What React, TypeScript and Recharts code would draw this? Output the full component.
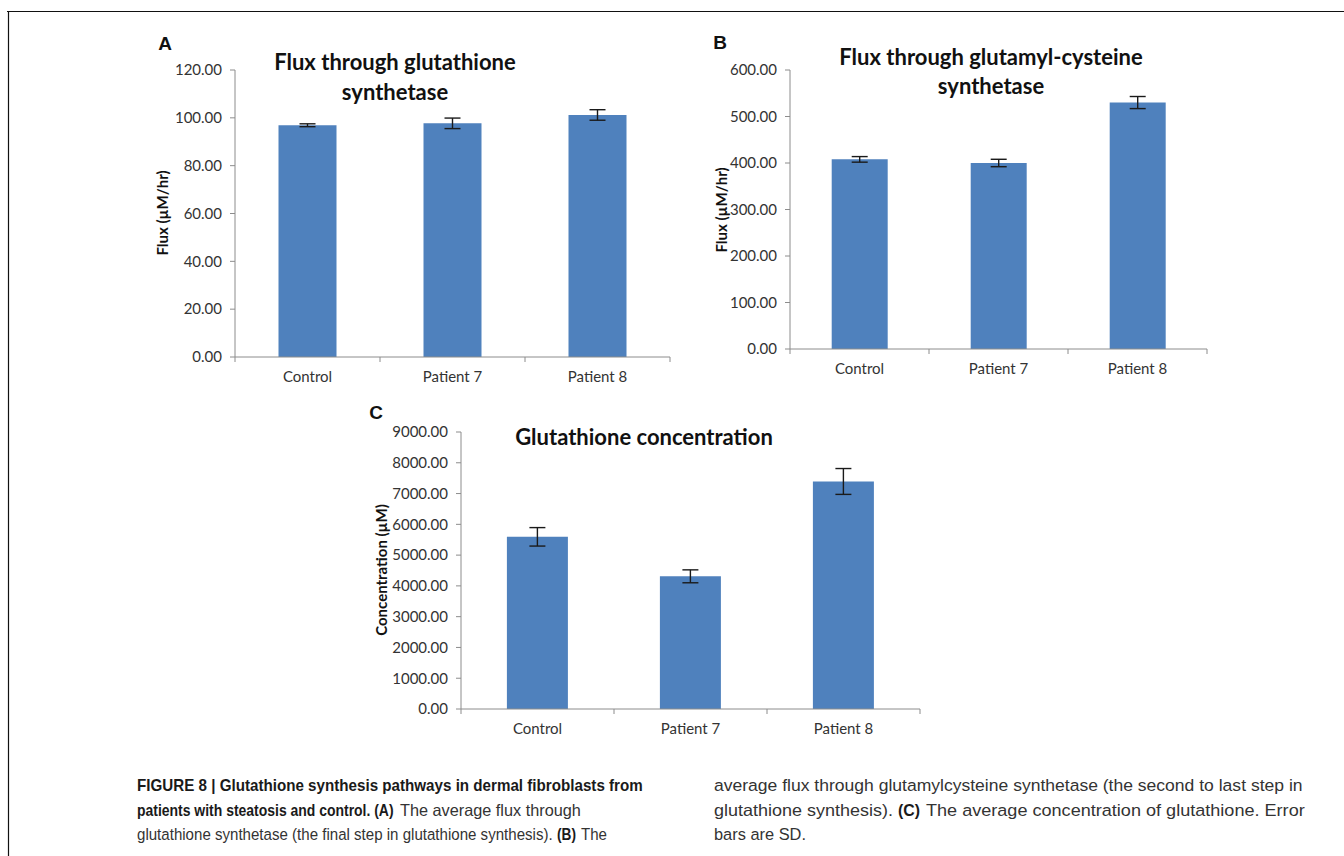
import React, { useLayoutEffect, useRef, useState } from "react";
import { BarChart, Bar, XAxis, YAxis, ErrorBar } from "recharts";

const categories = ["Control", "Patient 7", "Patient 8"];

// A: flux through glutathione synthetase
const gsFlux = [96.9, 97.7, 101.2];
const gsFluxSd = [0.6, 2.2, 2.2];
const gsTicks = [0, 20, 40, 60, 80, 100, 120];

// B: flux through glutamyl-cysteine synthetase
const gcsFlux = [407.8, 400.0, 530.0];
const gcsFluxSd = [6, 8, 13];
const gcsTicks = [0, 100, 200, 300, 400, 500, 600];

// C: glutathione concentration
const gshConc = [5594, 4311, 7393];
const gshConcSd = [300, 210, 420];
const gshTicks = [0, 1000, 2000, 3000, 4000, 5000, 6000, 7000, 8000, 9000];

const BAR = "#4f81bd";
const AXIS = "#8c8c8c";
const TEXT = "#333";
const FONT = "Lato, 'Open Sans', sans-serif";

function CatTick(props: any) {
  const { x, y, payload, index, half } = props;
  const off = payload && payload.offset ? payload.offset : half;
  const axisY = y - 14;
  return (
    <g>
      <line x1={x - off} x2={x - off} y1={axisY} y2={axisY + 5} stroke={AXIS} />
      {index === categories.length - 1 && (
        <line x1={x + off} x2={x + off} y1={axisY} y2={axisY + 5} stroke={AXIS} />
      )}
      <text x={x} y={y} dy="0.71em" textAnchor="middle" fill={TEXT} fontSize={15} fontFamily={FONT}>
        {payload.value}
      </text>
    </g>
  );
}

function Panel({
  values,
  sd,
  ticks,
  plot,
}: {
  values: number[];
  sd: number[];
  ticks: number[];
  plot: [number, number, number, number];
}) {
  const data = categories.map((name, i) => ({ name, value: values[i], sd: sd[i] }));
  const [l, t, r, b] = plot;
  const ML = 30, YW = 70, MT = 40, XH = 30, MB = 10, MR = 30;
  const width = r - l + ML + YW + MR;
  const height = b - t + MT + XH + MB;
  return (
    <div style={{ position: "absolute", left: l - ML - YW, top: t - MT }}>
      <BarChart
        width={width}
        height={height}
        data={data}
        margin={{ top: MT, right: MR, left: ML, bottom: MB }}
        barCategoryGap="30%"
      >
        <XAxis
          dataKey="name"
          height={XH}
          interval={0}
          axisLine={{ stroke: AXIS }}
          tickLine={false}
          tickSize={6}
          tickMargin={8}
          tick={<CatTick half={(r - l) / 6} />}
        />
        <YAxis
          width={YW}
          domain={[0, ticks[ticks.length - 1]]}
          ticks={ticks}
          interval={0}
          axisLine={{ stroke: AXIS }}
          tickLine={{ stroke: AXIS }}
          tickSize={5}
          tickMargin={8}
          tick={{ fill: TEXT, fontSize: 15, fontFamily: FONT }}
          tickFormatter={(v: number) => v.toFixed(2)}
        />
        <Bar dataKey="value" fill={BAR} isAnimationActive={false}>
          <ErrorBar dataKey="sd" width={8} stroke="#1a1a1a" strokeWidth={1.4} isAnimationActive={false} />
        </Bar>
      </BarChart>
    </div>
  );
}

// caption segment squeezed horizontally to the width it has in the figure
function FitText({
  x,
  y,
  width,
  bold,
  children,
}: {
  x: number;
  y: number;
  width: number;
  bold?: boolean;
  children: string;
}) {
  const ref = useRef<SVGTextElement>(null);
  const [sx, setSx] = useState(1);
  useLayoutEffect(() => {
    if (ref.current) {
      const w = ref.current.getComputedTextLength();
      if (w > 0) setSx(width / w);
    }
  }, [width, children]);
  return (
    <text
      ref={ref}
      transform={`translate(${x},${y}) scale(${sx},1)`}
      fontWeight={bold ? 700 : 400}
      fill={bold ? "#1a1a1a" : "#333"}
    >
      {children}
    </text>
  );
}

export default function App() {
  return (
    <div
      style={{
        position: "relative",
        width: 1344,
        height: 856,
        background: "#fff",
        overflow: "hidden",
      }}
    >
      <style>{`body{margin:0}`}</style>
      <Panel values={gsFlux} sd={gsFluxSd} ticks={gsTicks} plot={[235, 70, 670, 357]} />
      <Panel values={gcsFlux} sd={gcsFluxSd} ticks={gcsTicks} plot={[790, 70, 1207, 349]} />
      <Panel values={gshConc} sd={gshConcSd} ticks={gshTicks} plot={[461, 432, 920, 709]} />

      <svg
        width={1344}
        height={856}
        style={{ position: "absolute", left: 0, top: 0, pointerEvents: "none" }}
      >
        <line x1={7} x2={1344} y1={11.5} y2={11.5} stroke="#111" strokeWidth={1.2} />
        <line x1={8.5} x2={8.5} y1={11} y2={856} stroke="#111" strokeWidth={1.2} />

        <g fontFamily="'Liberation Sans', Arial, sans-serif" fontWeight={700} fontSize={19} fill="#111" textAnchor="middle">
          <text x={165} y={50}>A</text>
          <text x={720} y={49}>B</text>
          <text x={376} y={419}>C</text>
        </g>

        <g fontFamily={FONT} fontWeight={700} fontSize={22} fill="#111" textAnchor="middle">
          <text x={395} y={70}>Flux through glutathione</text>
          <text x={395} y={100}>synthetase</text>
          <text x={991} y={65}>Flux through glutamyl-cysteine</text>
          <text x={991} y={94}>synthetase</text>
          <text x={644} y={445}>Glutathione concentration</text>
        </g>

        <g fontFamily={FONT} fontWeight={700} fontSize={15} fill="#111" textAnchor="middle">
          <text transform="translate(168,213) rotate(-90)">Flux (µM/hr)</text>
          <text transform="translate(727,210) rotate(-90)">Flux (µM/hr)</text>
          <text transform="translate(387,570) rotate(-90)">Concentration (µM)</text>
        </g>

        <g fontFamily="'Liberation Sans', Arial, sans-serif" fontSize={16.5}>
          <FitText x={137} y={791} width={506} bold>
            FIGURE 8 | Glutathione synthesis pathways in dermal fibroblasts from
          </FitText>
          <FitText x={137} y={816} width={257} bold>
            patients with steatosis and control. (A)
          </FitText>
          <FitText x={400} y={816} width={181}>
            The average flux through
          </FitText>
          <FitText x={137} y={840} width={416}>
            glutathione synthetase (the final step in glutathione synthesis).
          </FitText>
          <FitText x={557} y={840} width={19} bold>
            (B)
          </FitText>
          <FitText x={581} y={840} width={26}>
            The
          </FitText>
          <FitText x={714} y={791} width={589}>
            average flux through glutamylcysteine synthetase (the second to last step in
          </FitText>
          <FitText x={714} y={816} width={179}>
            glutathione synthesis).
          </FitText>
          <FitText x={898} y={816} width={22} bold>
            (C)
          </FitText>
          <FitText x={926} y={816} width={379}>
            The average concentration of glutathione. Error
          </FitText>
          <FitText x={714} y={840} width={92}>
            bars are SD.
          </FitText>
        </g>
      </svg>
    </div>
  );
}
